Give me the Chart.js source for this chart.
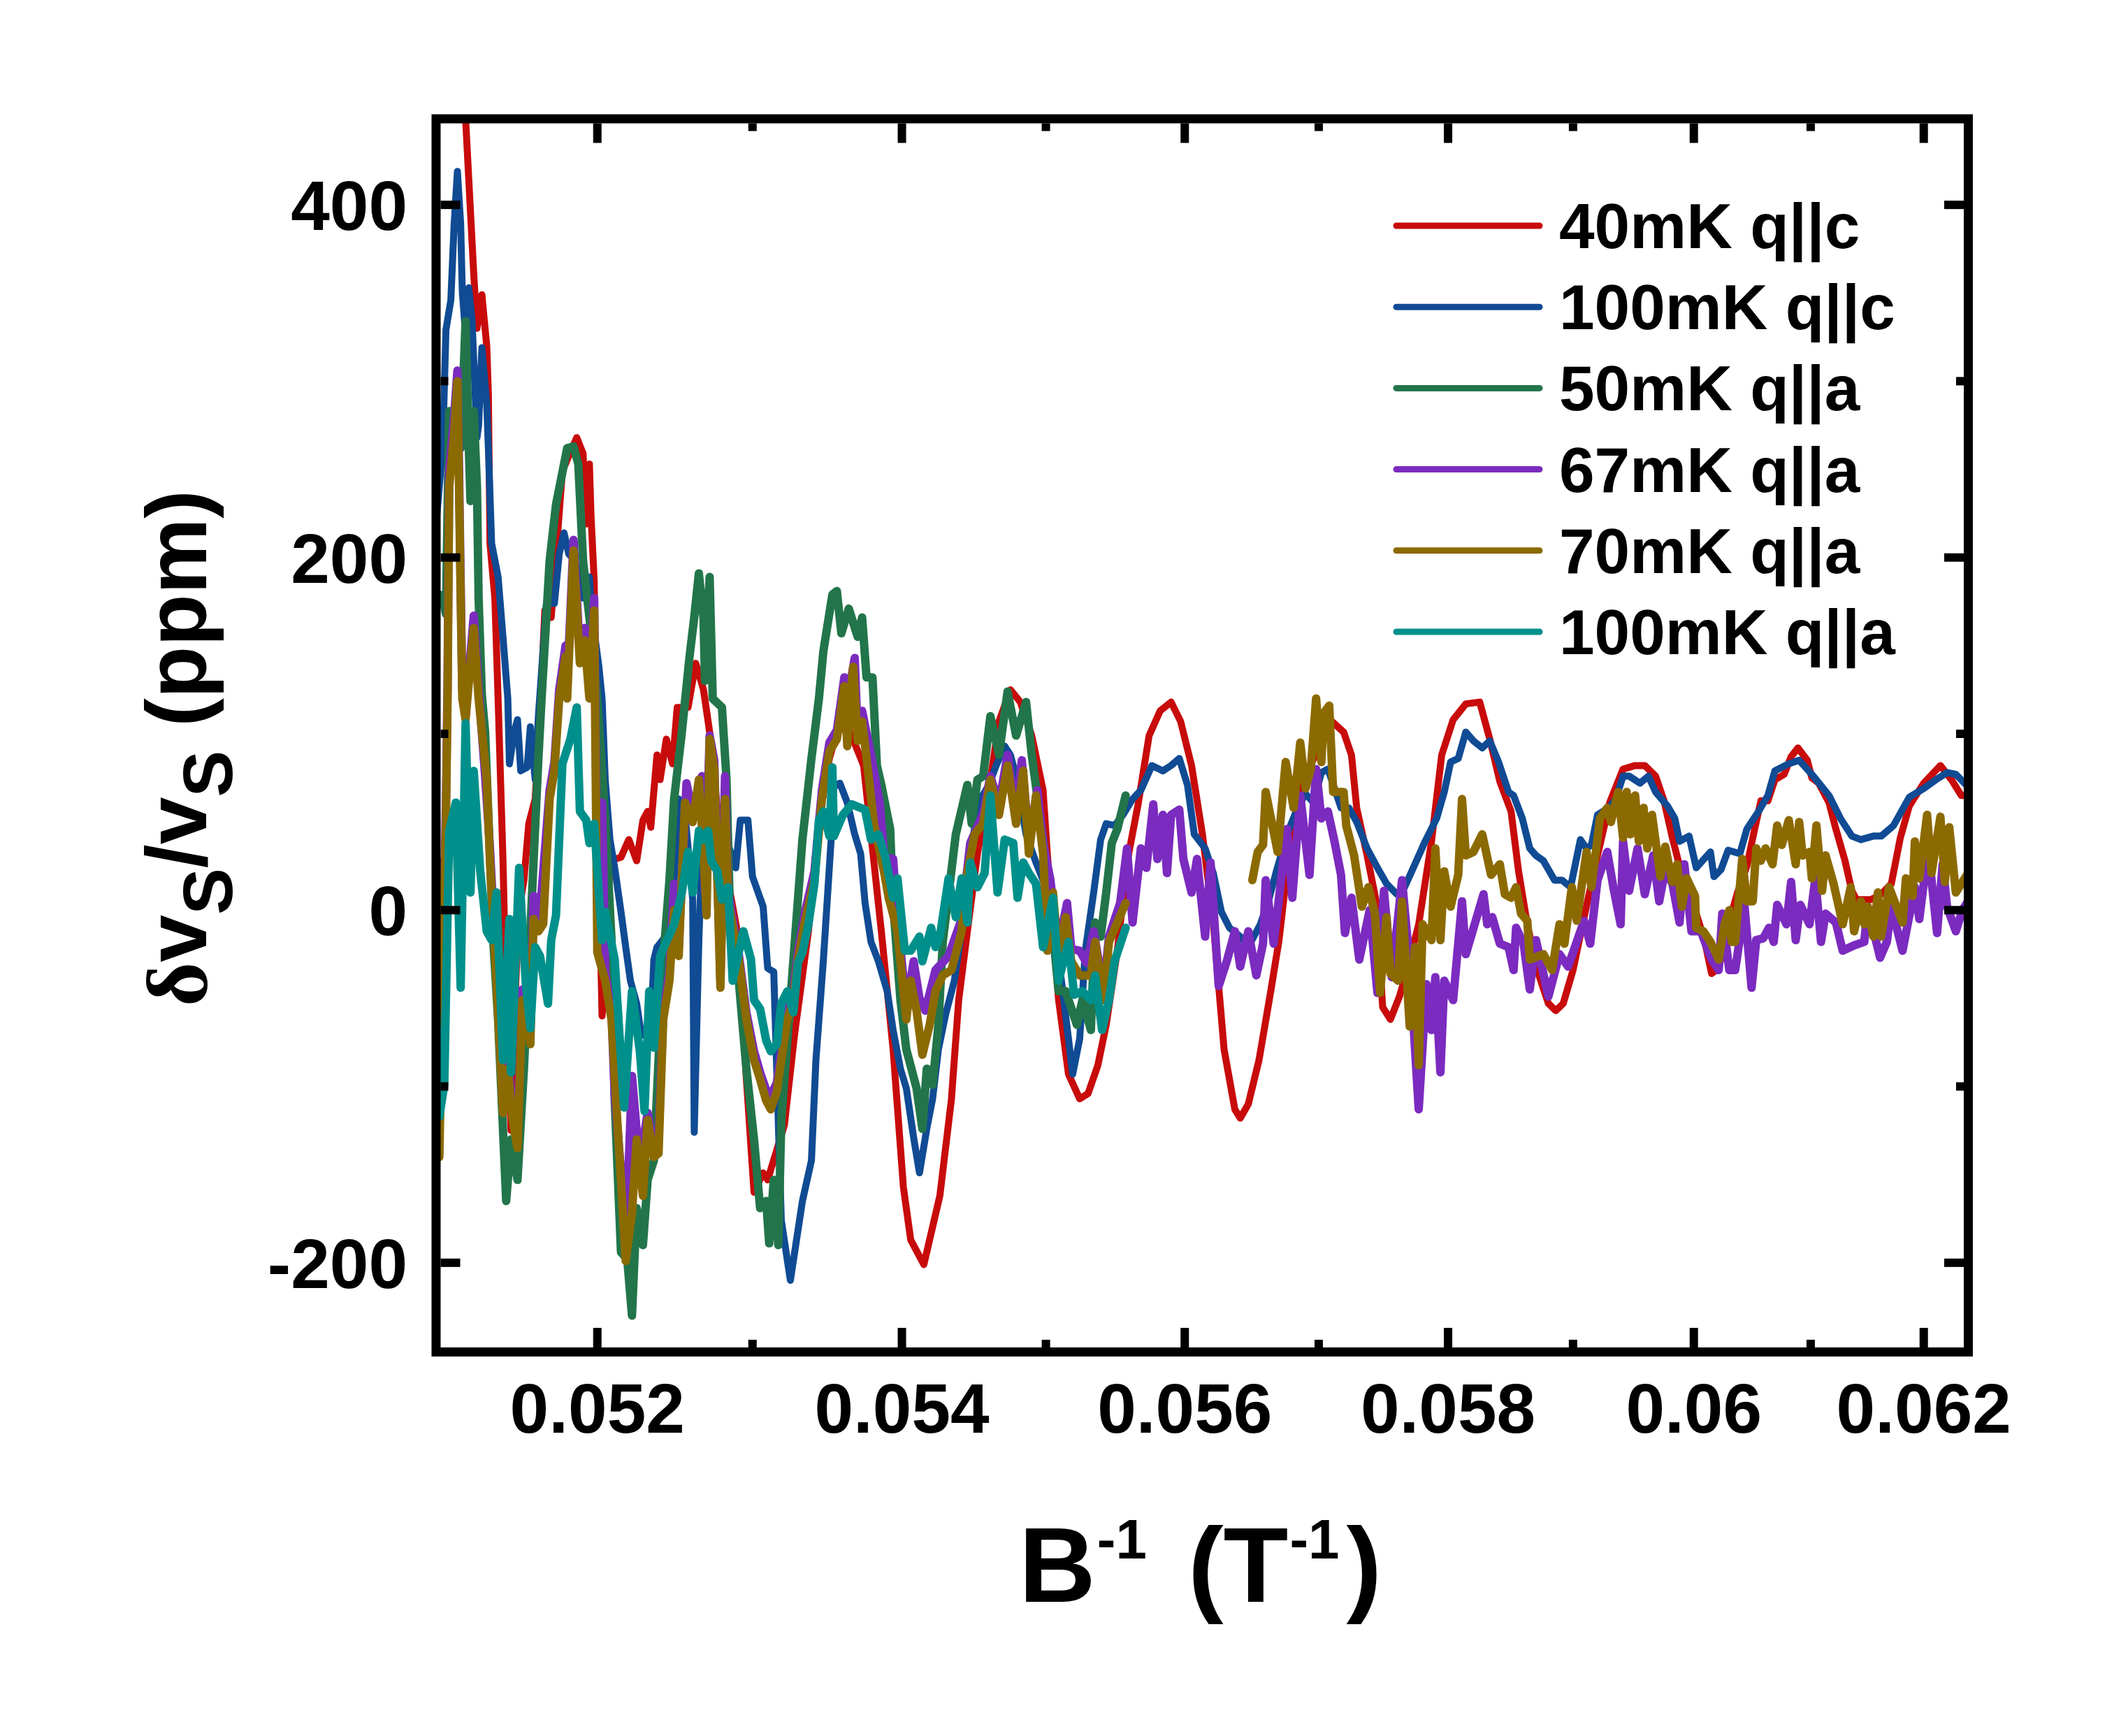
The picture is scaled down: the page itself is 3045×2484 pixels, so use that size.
<!DOCTYPE html>
<html>
<head>
<meta charset="utf-8">
<title>Sound velocity oscillations</title>
<script src="https://cdn.jsdelivr.net/npm/chart.js@4.4.1/dist/chart.umd.min.js"></script>
<style>
  html, body { margin: 0; padding: 0; background: #ffffff; }
  #chart { display: block; }
</style>
</head>
<body>
<canvas id="chart" width="3045" height="2484"></canvas>
<script>
// x values are B^-1 (T^-1), y values are dvs/vs (ppm)
const redX = [0.05112, 0.05118, 0.05123, 0.05125, 0.05128, 0.05131, 0.05132, 0.05133, 0.05136, 0.05138, 0.05141, 0.05143, 0.05146, 0.05148, 0.05151, 0.05154, 0.05157, 0.05161, 0.05164, 0.05167, 0.05171, 0.05178, 0.05187, 0.05191, 0.05193, 0.05195, 0.05196, 0.05198, 0.05200, 0.05203, 0.05205, 0.05208, 0.05215, 0.05220, 0.05225, 0.05229, 0.05232, 0.05234, 0.05238, 0.05240, 0.05244, 0.05248, 0.05251, 0.05258, 0.05263, 0.05268, 0.05272, 0.05279, 0.05290, 0.05296, 0.05301, 0.05307, 0.05310, 0.05321, 0.05328, 0.05337, 0.05344, 0.05351, 0.05356, 0.05363, 0.05374, 0.05386, 0.05394, 0.05401, 0.05406, 0.05415, 0.05426, 0.05434, 0.05439, 0.05445, 0.05452, 0.05460, 0.05467, 0.05475, 0.05482, 0.05490, 0.05498, 0.05501, 0.05509, 0.05516, 0.05524, 0.05530, 0.05537, 0.05543, 0.05551, 0.05558, 0.05566, 0.05574, 0.05582, 0.05590, 0.05597, 0.05605, 0.05613, 0.05621, 0.05629, 0.05637, 0.05641, 0.05647, 0.05655, 0.05664, 0.05670, 0.05676, 0.05684, 0.05690, 0.05698, 0.05710, 0.05719, 0.05725, 0.05729, 0.05737, 0.05744, 0.05749, 0.05755, 0.05762, 0.05768, 0.05777, 0.05787, 0.05795, 0.05804, 0.05814, 0.05825, 0.05833, 0.05841, 0.05850, 0.05856, 0.05863, 0.05871, 0.05880, 0.05886, 0.05892, 0.05900, 0.05909, 0.05920, 0.05930, 0.05941, 0.05951, 0.05959, 0.05968, 0.05975, 0.05982, 0.05988, 0.06002, 0.06009, 0.06015, 0.06021, 0.06031, 0.06037, 0.06045, 0.06051, 0.06057, 0.06063, 0.06069, 0.06077, 0.06083, 0.06089, 0.06097, 0.06101, 0.06107, 0.06116, 0.06122, 0.06130, 0.06136, 0.06140, 0.06153, 0.06162, 0.06171, 0.06179, 0.06187, 0.06200, 0.06215, 0.06225, 0.06234, 0.06240];
const redY = [540, 449, 361, 330, 349, 320, 293, 208, 177, 120, 29, -50, -125, -60, 0, 17, 49, 63, 110, 170, 166, 249, 268, 259, 219, 253, 224, 187, 60, -60, -40, 28, 30, 40, 28, 51, 56, 47, 88, 74, 97, 83, 115, 115, 140, 125, 101, 40, -12, -96, -160, -149, -153, -122, -69, -12, 51, 86, 101, 105, 82, -12, -79, -157, -187, -201, -162, -107, -51, -12, 32, 68, 107, 125, 118, 99, 68, 32, -51, -93, -107, -104, -88, -65, -23, 27, 60, 99, 113, 118, 107, 82, 43, -7, -79, -113, -118, -110, -85, -45, -17, 22, 63, 78, 88, 107, 101, 88, 58, 31, 5, -55, -62, -49, -34, -8, 39, 88, 108, 117, 118, 97, 73, 56, 22, -8, -34, -53, -57, -53, -34, -4, 31, 61, 80, 82, 82, 76, 62, 41, 25, -2, -17, -36, -33, -4, 10, 25, 44, 62, 62, 74, 77, 87, 92, 85, 75, 72, 61, 46, 28, 11, 6, 6, 9, 15, 41, 59, 72, 82, 74, 65, 65];

const blueX = [0.05100, 0.05104, 0.05106, 0.05109, 0.05111, 0.05113, 0.05115, 0.05116, 0.05118, 0.05120, 0.05122, 0.05125, 0.05126, 0.05128, 0.05131, 0.05132, 0.05134, 0.05138, 0.05141, 0.05144, 0.05145, 0.05148, 0.05150, 0.05152, 0.05156, 0.05158, 0.05161, 0.05163, 0.05168, 0.05173, 0.05176, 0.05179, 0.05182, 0.05186, 0.05191, 0.05195, 0.05196, 0.05201, 0.05203, 0.05205, 0.05208, 0.05211, 0.05215, 0.05218, 0.05221, 0.05225, 0.05228, 0.05234, 0.05236, 0.05238, 0.05246, 0.05249, 0.05252, 0.05256, 0.05261, 0.05262, 0.05265, 0.05267, 0.05274, 0.05283, 0.05289, 0.05292, 0.05297, 0.05300, 0.05307, 0.05310, 0.05314, 0.05319, 0.05325, 0.05333, 0.05339, 0.05342, 0.05347, 0.05353, 0.05354, 0.05358, 0.05363, 0.05368, 0.05372, 0.05375, 0.05379, 0.05384, 0.05390, 0.05394, 0.05399, 0.05403, 0.05408, 0.05412, 0.05417, 0.05421, 0.05425, 0.05430, 0.05436, 0.05443, 0.05447, 0.05452, 0.05460, 0.05465, 0.05471, 0.05475, 0.05479, 0.05486, 0.05493, 0.05499, 0.05505, 0.05511, 0.05516, 0.05519, 0.05524, 0.05528, 0.05534, 0.05539, 0.05543, 0.05549, 0.05555, 0.05562, 0.05568, 0.05576, 0.05584, 0.05590, 0.05596, 0.05602, 0.05607, 0.05615, 0.05621, 0.05627, 0.05633, 0.05641, 0.05647, 0.05656, 0.05662, 0.05668, 0.05676, 0.05684, 0.05690, 0.05696, 0.05702, 0.05707, 0.05712, 0.05717, 0.05723, 0.05729, 0.05737, 0.05745, 0.05752, 0.05760, 0.05766, 0.05774, 0.05782, 0.05791, 0.05797, 0.05802, 0.05808, 0.05814, 0.05820, 0.05827, 0.05833, 0.05840, 0.05848, 0.05852, 0.05859, 0.05865, 0.05870, 0.05876, 0.05885, 0.05891, 0.05898, 0.05906, 0.05911, 0.05915, 0.05920, 0.05929, 0.05935, 0.05941, 0.05946, 0.05955, 0.05962, 0.05968, 0.05978, 0.05984, 0.05988, 0.05996, 0.06002, 0.06014, 0.06017, 0.06023, 0.06029, 0.06039, 0.06045, 0.06055, 0.06063, 0.06069, 0.06081, 0.06090, 0.06101, 0.06116, 0.06126, 0.06136, 0.06144, 0.06155, 0.06162, 0.06173, 0.06187, 0.06200, 0.06211, 0.06221, 0.06229, 0.06240];
const blueY = [219, 262, 329, 346, 389, 419, 389, 351, 326, 353, 334, 268, 275, 319, 287, 262, 208, 189, 155, 120, 83, 101, 108, 79, 81, 104, 74, 110, 174, 174, 202, 214, 202, 198, 177, 189, 172, 138, 120, 74, 40, 24, -1, -21, -40, -53, -71, -67, -28, -21, -12, 17, 63, 55, 6, -126, -17, 33, 60, 40, 24, 51, 51, 19, 2, -33, -35, -176, -210, -165, -142, -85, -28, 51, 70, 72, 61, 43, 32, 4, -18, -29, -46, -68, -90, -101, -129, -149, -124, -107, -79, -59, -40, -1, 27, 60, 71, 82, 93, 88, 76, 43, 27, 15, -7, -40, -73, -93, -73, -23, 10, 40, 49, 48, 54, 63, 68, 82, 79, 82, 86, 71, 43, 35, 21, -1, -10, -15, -21, -8, 5, 22, 43, 58, 66, 61, 78, 80, 69, 58, 58, 50, 35, 24, 15, 9, 13, 26, 39, 52, 67, 84, 86, 101, 96, 92, 96, 84, 67, 65, 52, 35, 31, 28, 17, 17, 13, 40, 35, 37, 54, 58, 63, 76, 76, 72, 76, 67, 59, 52, 39, 42, 24, 33, 19, 23, 34, 32, 46, 56, 65, 79, 83, 85, 77, 65, 52, 42, 40, 42, 42, 48, 64, 69, 74, 78, 77, 70];

const greenX = [0.05100, 0.05102, 0.05104, 0.05106, 0.05108, 0.05111, 0.05115, 0.05118, 0.05120, 0.05121, 0.05123, 0.05125, 0.05126, 0.05128, 0.05130, 0.05135, 0.05138, 0.05143, 0.05146, 0.05150, 0.05154, 0.05160, 0.05163, 0.05165, 0.05170, 0.05174, 0.05181, 0.05185, 0.05188, 0.05191, 0.05195, 0.05200, 0.05205, 0.05209, 0.05211, 0.05215, 0.05219, 0.05222, 0.05225, 0.05229, 0.05232, 0.05236, 0.05242, 0.05246, 0.05249, 0.05254, 0.05259, 0.05262, 0.05265, 0.05268, 0.05269, 0.05272, 0.05273, 0.05274, 0.05280, 0.05283, 0.05285, 0.05291, 0.05296, 0.05301, 0.05305, 0.05309, 0.05311, 0.05314, 0.05317, 0.05319, 0.05323, 0.05328, 0.05333, 0.05339, 0.05344, 0.05347, 0.05353, 0.05356, 0.05359, 0.05364, 0.05370, 0.05373, 0.05376, 0.05380, 0.05383, 0.05386, 0.05392, 0.05394, 0.05399, 0.05403, 0.05410, 0.05414, 0.05417, 0.05421, 0.05425, 0.05428, 0.05437, 0.05445, 0.05448, 0.05452, 0.05456, 0.05461, 0.05467, 0.05473, 0.05479, 0.05486, 0.05490, 0.05498, 0.05501, 0.05509, 0.05514, 0.05522, 0.05526, 0.05532, 0.05535, 0.05539, 0.05543, 0.05547, 0.05551, 0.05557];
const greenY = [179, 179, 177, 168, 283, 270, 262, 334, 262, 232, 283, 240, 177, 122, 101, -17, -62, -165, -130, -153, -90, 28, 86, 120, 198, 230, 262, 263, 253, 198, 166, 120, 51, -17, -108, -194, -198, -230, -169, -190, -153, -142, -28, 17, 63, 101, 144, 166, 191, 166, 130, 189, 155, 120, 115, 74, 6, -40, -90, -130, -169, -165, -189, -153, -190, -119, -74, -17, 40, 86, 120, 147, 179, 181, 157, 171, 155, 166, 132, 132, 82, 71, 46, 4, -51, -79, -101, -124, -90, -99, -65, -18, 43, 71, 49, 74, 76, 110, 88, 124, 99, 118, 88, 40, 21, -46, -46, -65, -51, -68, -7, -15, 10, 38, 46, 65];

const purpleX = [0.05100, 0.05101, 0.05102, 0.05104, 0.05106, 0.05107, 0.05108, 0.05111, 0.05113, 0.05114, 0.05115, 0.05116, 0.05118, 0.05121, 0.05123, 0.05126, 0.05130, 0.05133, 0.05137, 0.05140, 0.05141, 0.05144, 0.05147, 0.05150, 0.05153, 0.05158, 0.05160, 0.05163, 0.05164, 0.05170, 0.05173, 0.05176, 0.05180, 0.05181, 0.05185, 0.05189, 0.05192, 0.05195, 0.05198, 0.05200, 0.05203, 0.05205, 0.05209, 0.05211, 0.05215, 0.05218, 0.05222, 0.05225, 0.05228, 0.05232, 0.05236, 0.05239, 0.05242, 0.05246, 0.05249, 0.05252, 0.05257, 0.05261, 0.05267, 0.05269, 0.05272, 0.05275, 0.05279, 0.05282, 0.05284, 0.05291, 0.05296, 0.05301, 0.05305, 0.05309, 0.05312, 0.05316, 0.05319, 0.05323, 0.05327, 0.05330, 0.05335, 0.05341, 0.05346, 0.05351, 0.05356, 0.05361, 0.05363, 0.05365, 0.05368, 0.05370, 0.05373, 0.05379, 0.05385, 0.05388, 0.05394, 0.05397, 0.05403, 0.05408, 0.05412, 0.05416, 0.05423, 0.05432, 0.05441, 0.05447, 0.05456, 0.05461, 0.05467, 0.05473, 0.05479, 0.05483, 0.05488, 0.05494, 0.05498, 0.05503, 0.05509, 0.05515, 0.05518, 0.05524, 0.05529, 0.05534, 0.05541, 0.05545, 0.05553, 0.05558, 0.05562, 0.05568, 0.05572, 0.05577, 0.05580, 0.05584, 0.05587, 0.05590, 0.05596, 0.05599, 0.05605, 0.05609, 0.05615, 0.05619, 0.05625, 0.05631, 0.05637, 0.05641, 0.05647, 0.05653, 0.05658, 0.05660, 0.05666, 0.05676, 0.05680, 0.05686, 0.05693, 0.05698, 0.05702, 0.05707, 0.05712, 0.05717, 0.05720, 0.05725, 0.05731, 0.05739, 0.05745, 0.05750, 0.05756, 0.05764, 0.05770, 0.05777, 0.05783, 0.05787, 0.05790, 0.05794, 0.05797, 0.05804, 0.05811, 0.05814, 0.05828, 0.05831, 0.05835, 0.05841, 0.05848, 0.05852, 0.05854, 0.05860, 0.05865, 0.05870, 0.05880, 0.05889, 0.05896, 0.05909, 0.05914, 0.05920, 0.05928, 0.05933, 0.05939, 0.05941, 0.05946, 0.05953, 0.05959, 0.05966, 0.05971, 0.05976, 0.05982, 0.05988, 0.05992, 0.05998, 0.06006, 0.06015, 0.06021, 0.06024, 0.06030, 0.06035, 0.06043, 0.06049, 0.06053, 0.06059, 0.06064, 0.06068, 0.06071, 0.06079, 0.06083, 0.06087, 0.06091, 0.06099, 0.06104, 0.06109, 0.06113, 0.06122, 0.06128, 0.06138, 0.06147, 0.06150, 0.06161, 0.06167, 0.06171, 0.06181, 0.06192, 0.06196, 0.06204, 0.06212, 0.06217, 0.06221, 0.06229, 0.06235, 0.06240];
const purpleY = [30, 25, -120, -30, 60, 130, 250, 280, 306, 250, 185, 125, 110, 145, 167, 125, 76, 35, -35, -90, -110, -85, -112, -130, -45, -70, 8, -8, -1, 68, 84, 125, 150, 128, 210, 146, 160, 125, 177, 10, 61, -35, -58, -105, -148, -190, -94, -125, -137, -115, -135, -130, -58, -35, 15, -20, 72, 55, 76, 10, 99, 85, -40, 76, 10, -25, -58, -80, -92, -102, -105, -98, -80, -58, -46, -24, 0, 22, 68, 95, 102, 132, 100, 128, 143, 100, 113, 88, 60, 30, 29, -5, -55, -29, -50, -57, -34, -26, -5, 38, 55, 76, 60, 88, 55, 85, 40, 68, 38, 18, -20, 4, -22, -23, -30, -12, -45, -15, 4, 35, -7, 35, 24, 60, 29, 54, 21, 54, 57, 29, 10, 29, -15, 27, -43, -29, -12, -32, -12, -37, -19, 17, -19, 46, 7, 65, 20, 80, 52, 56, 39, 20, -13, 7, -28, 0, -47, 11, -38, 17, -30, -113, -42, -68, -38, -92, -40, -51, 5, -25, 9, -8, -4, -19, -21, -34, -10, -19, -45, -17, -49, -25, -32, -6, -19, 17, 33, 13, -8, 39, 11, 35, 9, 31, 5, 23, 15, -7, 26, -12, -12, -28, -34, -2, -34, -34, 2, -44, -17, -16, -10, -18, 3, -8, 16, -17, 3, -8, 18, -18, -2, -7, -23, -20, -18, 2, -27, -18, 2, -23, 13, -5, 35, -13, 26, 2, -12, 0, 5];

// the 70mK trace has a break around 0.0560
const goldX = [0.05100, 0.05101, 0.05102, 0.05104, 0.05106, 0.05107, 0.05108, 0.05111, 0.05113, 0.05114, 0.05115, 0.05116, 0.05118, 0.05121, 0.05123, 0.05126, 0.05131, 0.05133, 0.05137, 0.05140, 0.05141, 0.05144, 0.05147, 0.05150, 0.05153, 0.05158, 0.05160, 0.05163, 0.05166, 0.05170, 0.05173, 0.05176, 0.05180, 0.05181, 0.05185, 0.05189, 0.05192, 0.05195, 0.05198, 0.05200, 0.05205, 0.05209, 0.05212, 0.05215, 0.05218, 0.05222, 0.05225, 0.05229, 0.05232, 0.05236, 0.05239, 0.05242, 0.05246, 0.05249, 0.05252, 0.05256, 0.05261, 0.05265, 0.05268, 0.05270, 0.05272, 0.05275, 0.05279, 0.05282, 0.05284, 0.05291, 0.05296, 0.05301, 0.05305, 0.05309, 0.05312, 0.05316, 0.05319, 0.05323, 0.05327, 0.05330, 0.05335, 0.05341, 0.05346, 0.05351, 0.05356, 0.05361, 0.05363, 0.05365, 0.05367, 0.05370, 0.05373, 0.05377, 0.05381, 0.05388, 0.05391, 0.05397, 0.05403, 0.05406, 0.05410, 0.05414, 0.05419, 0.05423, 0.05428, 0.05434, 0.05441, 0.05445, 0.05450, 0.05456, 0.05461, 0.05467, 0.05473, 0.05479, 0.05484, 0.05488, 0.05493, 0.05498, 0.05501, 0.05505, 0.05509, 0.05514, 0.05518, 0.05524, 0.05532, 0.05535, 0.05541, 0.05545, 0.05551, 0.05557, 0.05600, 0.05650, 0.05654, 0.05658, 0.05660, 0.05669, 0.05675, 0.05681, 0.05686, 0.05690, 0.05694, 0.05698, 0.05702, 0.05704, 0.05708, 0.05711, 0.05719, 0.05721, 0.05727, 0.05733, 0.05738, 0.05743, 0.05747, 0.05752, 0.05755, 0.05761, 0.05764, 0.05770, 0.05774, 0.05777, 0.05780, 0.05787, 0.05790, 0.05794, 0.05797, 0.05802, 0.05808, 0.05811, 0.05814, 0.05820, 0.05827, 0.05834, 0.05841, 0.05845, 0.05850, 0.05854, 0.05858, 0.05863, 0.05865, 0.05876, 0.05883, 0.05889, 0.05893, 0.05899, 0.05903, 0.05911, 0.05915, 0.05922, 0.05928, 0.05931, 0.05937, 0.05941, 0.05944, 0.05947, 0.05951, 0.05954, 0.05958, 0.05961, 0.05965, 0.05972, 0.05976, 0.05982, 0.05986, 0.05990, 0.05994, 0.06001, 0.06002, 0.06008, 0.06014, 0.06021, 0.06026, 0.06030, 0.06032, 0.06035, 0.06041, 0.06045, 0.06050, 0.06053, 0.06057, 0.06061, 0.06067, 0.06071, 0.06075, 0.06081, 0.06087, 0.06090, 0.06093, 0.06099, 0.06101, 0.06105, 0.06110, 0.06113, 0.06120, 0.06128, 0.06135, 0.06138, 0.06144, 0.06147, 0.06150, 0.06155, 0.06159, 0.06162, 0.06169, 0.06175, 0.06181, 0.06184, 0.06190, 0.06192, 0.06196, 0.06203, 0.06207, 0.06215, 0.06219, 0.06223, 0.06229, 0.06234, 0.06240];
const goldY = [20, -8, -140, -40, 51, 120, 240, 270, 300, 240, 177, 120, 108, 140, 160, 120, 74, 28, -40, -96, -115, -90, -119, -135, -51, -76, -5, -12, -8, 63, 79, 120, 144, 120, 204, 140, 153, 120, 170, -24, -40, -62, -110, -153, -199, -172, -130, -162, -119, -140, -138, -62, -40, 0, -26, 61, 50, 74, 33, -3, 97, 80, -44, 63, 6, -28, -62, -85, -96, -108, -113, -103, -85, -62, -51, -28, -5, 17, 63, 90, 97, 127, 93, 121, 138, 96, 107, 79, 49, 21, 7, -12, -62, -40, -57, -82, -65, -46, -37, -34, -12, 21, 43, 49, 74, 54, 82, 49, 79, 32, 65, 32, -23, 10, -29, -4, -29, -37, -37, -18, -51, -18, -7, 4, null, 17, 33, 37, 67, 33, 84, 58, 95, 69, 80, 120, 84, 112, 116, 67, 67, 48, 31, 2, 13, -2, -47, -4, -36, -40, 5, -66, -21, -88, -8, -17, 35, -17, 22, 2, 20, 63, 31, 33, 43, 20, 26, 9, 7, 13, -2, -6, -28, -25, -34, -8, -19, 13, -6, 33, 13, 52, 58, 50, 67, 41, 67, 43, 65, 39, 58, 35, 54, 19, 36, 16, 26, 2, 18, 8, -10, -12, -18, -28, -8, 0, -18, -18, 29, 5, 5, 35, 28, 35, 26, 48, 37, 51, 26, 50, 31, 33, 18, 48, 11, 31, 15, -8, 13, -12, 5, -8, 2, -15, 10, -15, 13, 3, -7, 18, 8, 39, 18, 54, 21, 53, 16, 47, 10, 15, 21];

const tealX = [0.05100, 0.05102, 0.05105, 0.05108, 0.05112, 0.05115, 0.05118, 0.05121, 0.05123, 0.05127, 0.05131, 0.05134, 0.05137, 0.05141, 0.05145, 0.05146, 0.05151, 0.05155, 0.05158, 0.05161, 0.05164, 0.05169, 0.05171, 0.05174, 0.05178, 0.05183, 0.05187, 0.05189, 0.05193, 0.05195, 0.05198, 0.05203, 0.05205, 0.05211, 0.05217, 0.05222, 0.05227, 0.05230, 0.05233, 0.05236, 0.05240, 0.05249, 0.05254, 0.05258, 0.05261, 0.05265, 0.05268, 0.05271, 0.05273, 0.05277, 0.05280, 0.05284, 0.05287, 0.05294, 0.05299, 0.05301, 0.05305, 0.05309, 0.05312, 0.05316, 0.05319, 0.05323, 0.05327, 0.05330, 0.05333, 0.05337, 0.05341, 0.05344, 0.05347, 0.05351, 0.05353, 0.05354, 0.05360, 0.05366, 0.05375, 0.05379, 0.05384, 0.05389, 0.05394, 0.05397, 0.05402, 0.05406, 0.05412, 0.05414, 0.05420, 0.05423, 0.05426, 0.05432, 0.05437, 0.05441, 0.05445, 0.05447, 0.05452, 0.05457, 0.05461, 0.05466, 0.05471, 0.05477, 0.05480, 0.05484, 0.05488, 0.05493, 0.05498, 0.05505, 0.05509, 0.05516, 0.05520, 0.05526, 0.05532, 0.05535, 0.05540, 0.05545, 0.05549, 0.05557];
const tealY = [-53, -117, -99, 45, 61, -44, 106, 10, 79, 22, -12, -17, 10, -85, -5, -92, 24, -40, -67, -21, -26, -53, -17, -3, 83, 97, 115, 56, 51, 38, 49, -17, -1, -28, -112, -46, -80, -114, -46, -78, -26, -8, 10, 33, 10, 45, 40, 45, 28, 22, 6, 13, -40, -12, -28, -51, -56, -74, -80, -76, -53, -46, -58, -30, -24, -8, 15, 51, 56, 42, 81, 42, 54, 60, 57, 40, 43, 29, 7, 18, -23, -23, -15, -29, -10, -21, -15, 18, -4, 18, -7, 27, 13, 21, 65, 10, 40, 38, 7, 27, 21, 15, -21, 7, -40, -18, -48, -46, -51, -37, -68, -51, -29, -10];

const legendLabels = ["40mK q||c", "100mK q||c", "50mK q||a", "67mK q||a", "70mK q||a", "100mK q||a"];

const xMajorTicks = [0.052, 0.054, 0.056, 0.058, 0.060, 0.062];
const xTickLabels = ["0.052", "0.054", "0.056", "0.058", "0.06", "0.062"];
const xMinorTicks = [0.053, 0.055, 0.057, 0.059, 0.061];
const yMajorTicks = [-200, 0, 200, 400];
const yTickLabels = ["-200", "0", "200", "400"];
const yMinorTicks = [-100, 100, 300];

const X_MIN = 0.051;
const X_MAX = 0.0624;
const Y_MIN = -250;
const Y_MAX = 450;

const SANS = '"Liberation Sans", Arial, Helvetica, sans-serif';

const series = [
  { x: redX, y: redY, color: "#c80b0b", width: 10 },
  { x: blueX, y: blueY, color: "#104b94", width: 10 },
  { x: greenX, y: greenY, color: "#22754a", width: 12 },
  { x: purpleX, y: purpleY, color: "#7b2bbf", width: 12 },
  { x: goldX, y: goldY, color: "#8c6a02", width: 12 },
  { x: tealX, y: tealY, color: "#00908b", width: 12 },
];

// the B^-1 axis is reciprocal: plot against B on a reversed linear scale
function toB(inv) {
  return 1 / inv;
}

const framePlugin = {
  id: "originFrame",
  beforeDraw(chart) {
    const ctx = chart.ctx;
    ctx.save();
    ctx.fillStyle = "#ffffff";
    ctx.fillRect(0, 0, chart.width, chart.height);
    ctx.restore();
  },
  afterDraw(chart) {
    const ctx = chart.ctx;
    const area = chart.chartArea;
    const xs = chart.scales.x;
    const ys = chart.scales.y;
    const lw = 13;
    const left = area.left;
    const right = area.right + 0.5;
    const top = area.top + 3;
    const bottom = area.bottom + 1.5;

    ctx.save();
    ctx.strokeStyle = "#000000";
    ctx.fillStyle = "#000000";
    ctx.lineWidth = lw;
    ctx.lineJoin = "miter";
    ctx.strokeRect(left, top, right - left, bottom - top);

    const inL = left + lw / 2;
    const inR = right - lw / 2;
    const inT = top + lw / 2;
    const inB = bottom - lw / 2;
    const tw = 12;
    const major = 28;
    const minor = 11;

    const xTick = (v, len) => {
      const px = xs.getPixelForValue(toB(v));
      ctx.fillRect(px - tw / 2, inB - len, tw, len);
      ctx.fillRect(px - tw / 2, inT, tw, len);
      return px;
    };
    const yTick = (v, len) => {
      const py = ys.getPixelForValue(v);
      ctx.fillRect(inL, py - tw / 2, len, tw);
      ctx.fillRect(inR - len, py - tw / 2, len, tw);
      return py;
    };

    xMinorTicks.forEach((v) => xTick(v, minor));
    yMinorTicks.forEach((v) => yTick(v, minor));

    ctx.font = "bold 100px " + SANS;
    ctx.textBaseline = "alphabetic";
    ctx.textAlign = "center";
    xMajorTicks.forEach((v, i) => {
      const px = xTick(v, major);
      ctx.fillText(xTickLabels[i], px, 2050);
    });
    ctx.textAlign = "right";
    yMajorTicks.forEach((v, i) => {
      const py = yTick(v, major);
      ctx.fillText(yTickLabels[i], 583, py + 36);
    });

    // x axis title: B^-1 (T^-1)
    ctx.textAlign = "left";
    const big = "bold 152px " + SANS;
    const sup = "bold 80px " + SANS;
    const base = 2292;
    let cx = 1458;
    ctx.font = big;
    ctx.fillText("B", cx, base);
    cx += ctx.measureText("B").width + 2;
    ctx.font = sup;
    ctx.fillText("-1", cx, base - 62);
    cx = 1700;
    ctx.font = big;
    ctx.fillText("(T", cx, base);
    cx += ctx.measureText("(T").width + 2;
    ctx.font = sup;
    ctx.fillText("-1", cx, base - 62);
    cx += ctx.measureText("-1").width + 10;
    ctx.font = big;
    ctx.fillText(")", cx, base);

    // y axis title: dvS/vS (ppm), rotated
    ctx.save();
    ctx.translate(295, 1440);
    ctx.rotate(-Math.PI / 2);
    const pieces = [
      { t: "\u03b4", f: "bold 122px \"Liberation Serif\", \"Times New Roman\", serif", dy: 0 },
      { t: "v", f: "bold 122px " + SANS, dy: 0 },
      { t: "S", f: "bold 100px " + SANS, dy: 37 },
      { t: "/", f: "bold 122px " + SANS, dy: 0 },
      { t: "v", f: "bold 122px " + SANS, dy: 0 },
      { t: "S", f: "bold 100px " + SANS, dy: 37 },
      { t: " (ppm)", f: "bold 122px " + SANS, dy: 0 },
    ];
    let px = 0;
    pieces.forEach((p) => {
      ctx.font = p.f;
      ctx.fillText(p.t, px, p.dy);
      px += ctx.measureText(p.t).width;
    });
    ctx.restore();

    // legend
    ctx.font = "bold 91px " + SANS;
    ctx.textAlign = "left";
    legendLabels.forEach((label, i) => {
      const ly = 323 + i * 116.2;
      ctx.strokeStyle = series[i].color;
      ctx.lineWidth = 9;
      ctx.lineCap = "round";
      ctx.beginPath();
      ctx.moveTo(1998, ly);
      ctx.lineTo(2203, ly);
      ctx.stroke();
      ctx.fillStyle = "#000000";
      ctx.fillText(label, 2231, ly + 32);
    });
    ctx.restore();
  },
};

const datasets = series.map((s, i) => ({
  label: legendLabels[i],
  data: s.x.map((v, k) => ({ x: toB(v), y: s.y[k] })),
  borderColor: s.color,
  backgroundColor: s.color,
  borderWidth: s.width,
  borderJoinStyle: "round",
  borderCapStyle: "round",
  pointRadius: 0,
  pointHoverRadius: 0,
  tension: 0,
  fill: false,
  spanGaps: false,
  clip: 0,
  order: series.length - i,
}));

const chart = new Chart(document.getElementById("chart"), {
  type: "line",
  data: { datasets },
  options: {
    responsive: false,
    devicePixelRatio: 1,
    animation: false,
    events: [],
    layout: {
      padding: { left: 624, right: 229, top: 167, bottom: 551 },
    },
    scales: {
      x: {
        type: "linear",
        display: false,
        reverse: true,
        min: toB(X_MAX),
        max: toB(X_MIN),
      },
      y: {
        type: "linear",
        display: false,
        min: Y_MIN,
        max: Y_MAX,
      },
    },
    plugins: {
      legend: { display: false },
      tooltip: { enabled: false },
    },
  },
  plugins: [framePlugin],
});
</script>
</body>
</html>
